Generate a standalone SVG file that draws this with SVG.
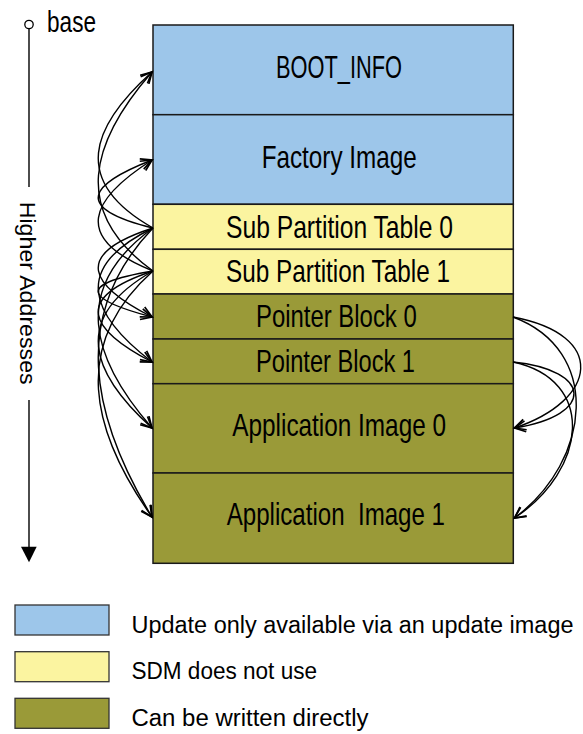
<svg xmlns="http://www.w3.org/2000/svg" width="583" height="734" viewBox="0 0 583 734">
<style>
text{font-family:"Liberation Sans",Arial,sans-serif;fill:#000}
.lbl{font-size:32px}
.leg{font-size:23.5px}
.blue{fill:#9DC6EA}
.yel{fill:#FBF4A0}
.olv{fill:#9A9A38}
.cell{stroke:#1a1a1a;stroke-width:1.5}
.lgbox{stroke:#333;stroke-width:1.3}
.conn{fill:none;stroke:#000;stroke-width:1.4;marker-end:url(#open)}
</style>
<defs>
<marker id="open" markerUnits="userSpaceOnUse" markerWidth="14" markerHeight="14" refX="11" refY="5.5" orient="auto" overflow="visible">
<path d="M0,0 L11,5.5 L0,11" fill="none" stroke="#000" stroke-width="1.7"/>
</marker>
</defs>
<rect width="583" height="734" fill="#fff"/>

<g id="axis">
<circle cx="29" cy="24.5" r="4.2" fill="#fff" stroke="#000" stroke-width="1.3"/>
<line x1="29" y1="28.7" x2="29" y2="187" stroke="#000" stroke-width="1.4"/>
<line x1="29" y1="400" x2="29" y2="548" stroke="#000" stroke-width="1.4"/>
<path d="M21,546.7 L36.7,546.7 L29,562.3 Z" fill="#000"/>
<text x="47" y="31.7" font-size="30" textLength="49" lengthAdjust="spacingAndGlyphs">base</text>
<text transform="translate(20,201.7) rotate(90)" font-size="22.5" textLength="183" lengthAdjust="spacingAndGlyphs">Higher Addresses</text>
</g>

<g id="boot_info">
<rect class="cell blue" x="153" y="25" width="360.3" height="89.7"/>
<text class="lbl" x="276" y="77.7" textLength="126" lengthAdjust="spacingAndGlyphs">BOOT_INFO</text>
</g>
<g id="factory_image">
<rect class="cell blue" x="153" y="114.7" width="360.3" height="89.6"/>
<text class="lbl" x="261.7" y="168.3" textLength="155" lengthAdjust="spacingAndGlyphs">Factory Image</text>
</g>
<g id="spt0">
<rect class="cell yel" x="153" y="204.3" width="360.3" height="45"/>
<text class="lbl" x="226" y="238.3" textLength="227" lengthAdjust="spacingAndGlyphs">Sub Partition Table 0</text>
</g>
<g id="spt1">
<rect class="cell yel" x="153" y="249.3" width="360.3" height="44.7"/>
<text class="lbl" x="226" y="281.7" textLength="224" lengthAdjust="spacingAndGlyphs">Sub Partition Table 1</text>
</g>
<g id="pb0">
<rect class="cell olv" x="153" y="294" width="360.3" height="45"/>
<text class="lbl" x="256" y="327.3" textLength="160.7" lengthAdjust="spacingAndGlyphs">Pointer Block 0</text>
</g>
<g id="pb1">
<rect class="cell olv" x="153" y="339" width="360.3" height="44.7"/>
<text class="lbl" x="256" y="372.3" textLength="159" lengthAdjust="spacingAndGlyphs">Pointer Block 1</text>
</g>
<g id="app0">
<rect class="cell olv" x="153" y="383.7" width="360.3" height="89.3"/>
<text class="lbl" x="232.3" y="435.7" textLength="213.7" lengthAdjust="spacingAndGlyphs">Application Image 0</text>
</g>
<g id="app1">
<rect class="cell olv" x="153" y="473" width="360.3" height="90.3"/>
<text class="lbl" x="226.7" y="525" textLength="218.3" lengthAdjust="spacingAndGlyphs" xml:space="preserve">Application  Image 1</text>
</g>

<g id="connectors">
<path class="conn" d="M153,228 C70,181.2 91,126.6 152,72"/>
<path class="conn" d="M153,228 C70,207.6 91,183.8 152,160"/>
<path class="conn" d="M153,228 C70,254.7 91,285.9 152,317"/>
<path class="conn" d="M153,228 C70,268.2 91,315.1 152,362"/>
<path class="conn" d="M153,228 C70,288 91,358 152,428"/>
<path class="conn" d="M153,228 C70,314.7 91,415.9 152,517"/>
<path class="conn" d="M153,271 C70,211.3 91,141.7 152,72"/>
<path class="conn" d="M153,271 C70,237.7 91,198.9 152,160"/>
<path class="conn" d="M153,271 C70,284.8 91,300.9 152,317"/>
<path class="conn" d="M153,271 C70,298.3 91,330.2 152,362"/>
<path class="conn" d="M153,271 C70,318.1 91,373.1 152,428"/>
<path class="conn" d="M153,271 C70,344.8 91,430.9 152,517"/>
<path class="conn" d="M513,317 C608,335 598,400 514.5,428"/>
<path class="conn" d="M513,362 C592,370 596,415 514.5,428"/>
<path class="conn" d="M513,317 C602,350 592,460 514.5,518"/>
<path class="conn" d="M513,362 C597,380 587,470 514.5,518"/>
</g>

<g id="legend">
<g id="legend_blue">
<rect class="lgbox blue" x="15" y="605" width="94" height="30"/>
<text class="leg" x="131.5" y="632.7" textLength="442" lengthAdjust="spacingAndGlyphs">Update only available via an update image</text>
</g>
<g id="legend_yellow">
<rect class="lgbox yel" x="15" y="651.7" width="94" height="30"/>
<text class="leg" x="131.5" y="679.3" textLength="185.5" lengthAdjust="spacingAndGlyphs">SDM does not use</text>
</g>
<g id="legend_olive">
<rect class="lgbox olv" x="15" y="698.3" width="94" height="30"/>
<text class="leg" x="131.5" y="726" textLength="237" lengthAdjust="spacingAndGlyphs">Can be written directly</text>
</g>
</g>
</svg>
